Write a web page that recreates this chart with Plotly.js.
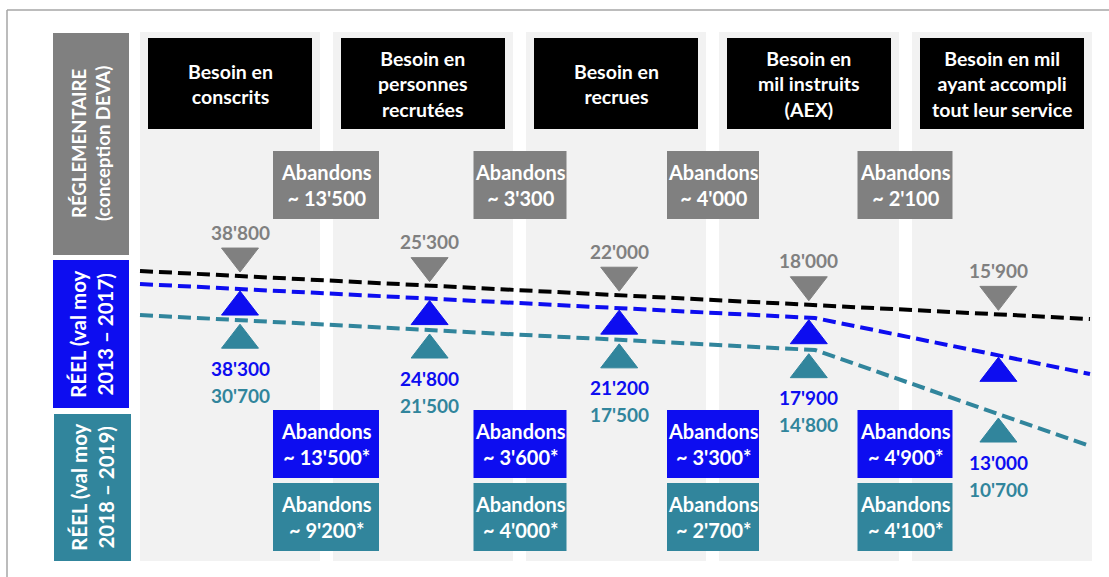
<!DOCTYPE html>
<html>
<head>
<meta charset="utf-8">
<script src="https://cdn.plot.ly/plotly-3.0.1.min.js"></script>
<style>html,body{margin:0;padding:0;background:#fff;}#chart{width:1109px;height:577px;}</style>
</head>
<body>
<div id="chart"></div>
<script>
// ---------------- DATA ----------------
const stages = [
  "Besoin en<br>conscrits",
  "Besoin en<br>personnes<br>recrutées",
  "Besoin en<br>recrues",
  "Besoin en<br>mil instruits<br>(AEX)",
  "Besoin en mil<br>ayant accompli<br>tout leur service"
];
const rowLabels = [
  "RÉGLEMENTAIRE<br>(conception DEVA)",
  "RÉEL (val moy<br>2013 – 2017)",
  "RÉEL (val moy<br>2018 – 2019)"
];
const reglementaire = [38800, 25300, 22000, 18000, 15900];
const reel1317      = [38300, 24800, 21200, 17900, 13000];
const reel1819      = [30700, 21500, 17500, 14800, 10700];
const abandonsReg   = [13500, 3300, 4000, 2100];
const abandons1317  = [13500, 3600, 3300, 4900];
const abandons1819  = [9200, 4000, 2700, 4100];

// ---------------- STYLE / LAYOUT GEOMETRY ----------------
const W = 1109, H = 577;
const GRAY = "#808080", BLUE = "#0d0df0", TEAL = "#31859c", BG = "#f2f2f2";
const FONT = "Lato, 'Open Sans', sans-serif";
const X0 = 240, DX = 189.6;               // stage index -> pixel
const COL_LEFT = 140, COL_W = 180, COL_STEP = 193;
const schematic = {                      // schematic trend lines (pixel geometry)
  black: [[140, 271], [1090, 319]],
  blue:  [[140, 284], [815, 318], [1090, 374]],
  teal:  [[140, 315], [815, 350], [1090, 446]]
};
const px = x => x / W, py = y => 1 - y / H;
const toStage = p => (p - X0) / DX;
function lineY(pts, x) {
  for (let k = 0; k < pts.length - 1; k++) {
    const [x1, y1] = pts[k], [x2, y2] = pts[k + 1];
    if (x <= x2 || k === pts.length - 2) return y1 + (x - x1) * (y2 - y1) / (x2 - x1);
  }
}
const fmt = v => Math.floor(v / 1000) + "'" + String(v % 1000).padStart(3, "0");

// ---------------- SHAPES ----------------
const shapes = [];
const rect = (x0, y0, x1, y1, color) => shapes.push({
  type: "rect", xref: "paper", yref: "paper", layer: "below",
  x0: px(x0), x1: px(x1), y0: py(y1), y1: py(y0),
  fillcolor: color, line: { width: 0 }
});
// columns + headers
stages.forEach((s, i) => {
  const l = COL_LEFT + COL_STEP * i;
  rect(l, 32, l + COL_W, 561, BG);
  rect(l + 8, 38, l + COL_W - 8, 129, "#000");
});
// row label boxes
rect(53, 33, 129, 255, GRAY);
rect(53, 260, 129, 408, BLUE);
rect(54, 414, 131, 561, TEAL);
// abandon boxes
const abCenters = [326, 520, 713, 905];
const abWidths = [106, 93, 92, 95];
abCenters.forEach((c, j) => {
  const hw = abWidths[j] / 2;
  rect(c - hw, 151, c + hw, 219, GRAY);
  rect(c - hw, 410, c + hw, 478, BLUE);
  rect(c - hw, 483, c + hw, 551, TEAL);
});
// frame
shapes.push({ type: "line", xref: "paper", yref: "paper", x0: px(7), x1: px(1109), y0: py(10), y1: py(10), line: { color: "#a6a6a6", width: 1.5 } });
shapes.push({ type: "line", xref: "paper", yref: "paper", x0: px(7), x1: px(7), y0: py(10), y1: py(577), line: { color: "#a6a6a6", width: 1.5 } });

// ---------------- ANNOTATIONS ----------------
const annotations = [];
const txt = (x, y, text, color, size, extra) => annotations.push(Object.assign({
  xref: "paper", yref: "paper", x: px(x), y: py(y), text: text, showarrow: false,
  xanchor: "center", yanchor: "middle",
  font: { family: FONT, size: size, color: color, weight: 700 }
}, extra || {}));
stages.forEach((s, i) => txt(COL_LEFT + COL_STEP * i + 90, 84, s, "#fff", 19.5));
txt(91, 144, rowLabels[0], "#fff", 18.5, { textangle: -90 });
txt(91, 334, rowLabels[1], "#fff", 20.5, { textangle: -90 });
txt(92, 487, rowLabels[2], "#fff", 20.5, { textangle: -90 });
abCenters.forEach((c, j) => {
  txt(c, 185, "Abandons<br>~ " + fmt(abandonsReg[j]), "#fff", 20);
  txt(c, 444, "Abandons<br>~ " + fmt(abandons1317[j]) + "*", "#fff", 20);
  txt(c, 517, "Abandons<br>~ " + fmt(abandons1819[j]) + "*", "#fff", 20);
});

// ---------------- TRACES ----------------
const R = 16; // marker half-size
const idx = reglementaire.map((v, i) => i);
const gx = [], gy = [], bx = [], by = [], tx = [], ty = [];
idx.forEach(i => {
  const xp = X0 + DX * i;
  const gO = lineY(schematic.black, xp) - 4 - R;
  const bO = lineY(schematic.blue, xp) + 2 + R;
  const tO = lineY(schematic.teal, xp) + 4 + R;
  gx.push(i); gy.push(gO); bx.push(i); by.push(bO); tx.push(i); ty.push(tO);
  annotations.push({ xref: "x", yref: "y", x: i, y: gO - R / 2 - 16, text: fmt(reglementaire[i]), showarrow: false,
    font: { family: FONT, size: 19, color: GRAY, weight: 700 } });
  annotations.push({ xref: "x", yref: "y", x: i, y: tO + R / 2 + 20, text: fmt(reel1317[i]), showarrow: false,
    font: { family: FONT, size: 19, color: BLUE, weight: 700 } });
  annotations.push({ xref: "x", yref: "y", x: i, y: tO + R / 2 + 47, text: fmt(reel1819[i]), showarrow: false,
    font: { family: FONT, size: 19, color: TEAL, weight: 700 } });
});
const lineTrace = (pts, color) => ({
  type: "scatter", mode: "lines", hoverinfo: "skip",
  x: pts.map(p => toStage(p[0])), y: pts.map(p => p[1]),
  line: { color: color, width: 4, dash: "13px,6px" }
});
const markerTrace = (x, y, sym, color) => ({
  type: "scatter", mode: "markers", hoverinfo: "skip", x: x, y: y,
  marker: { symbol: sym, size: 2 * R, color: color, line: { color: color, width: 1 } }
});
const data = [
  lineTrace(schematic.black, "#000"),
  lineTrace(schematic.blue, BLUE),
  lineTrace(schematic.teal, TEAL),
  markerTrace(gx, gy, "triangle-down", GRAY),
  markerTrace(bx, by, "triangle-up", BLUE),
  markerTrace(tx, ty, "triangle-up", TEAL)
];

const layout = {
  width: W, height: H, margin: { l: 0, r: 0, t: 0, b: 0 },
  paper_bgcolor: "#fff", plot_bgcolor: "rgba(0,0,0,0)", showlegend: false,
  xaxis: { range: [toStage(0), toStage(W)], visible: false, fixedrange: true },
  yaxis: { range: [H, 0], visible: false, fixedrange: true },
  shapes: shapes, annotations: annotations
};
Plotly.newPlot("chart", data, layout, { displayModeBar: false, staticPlot: true });
</script>
</body>
</html>
